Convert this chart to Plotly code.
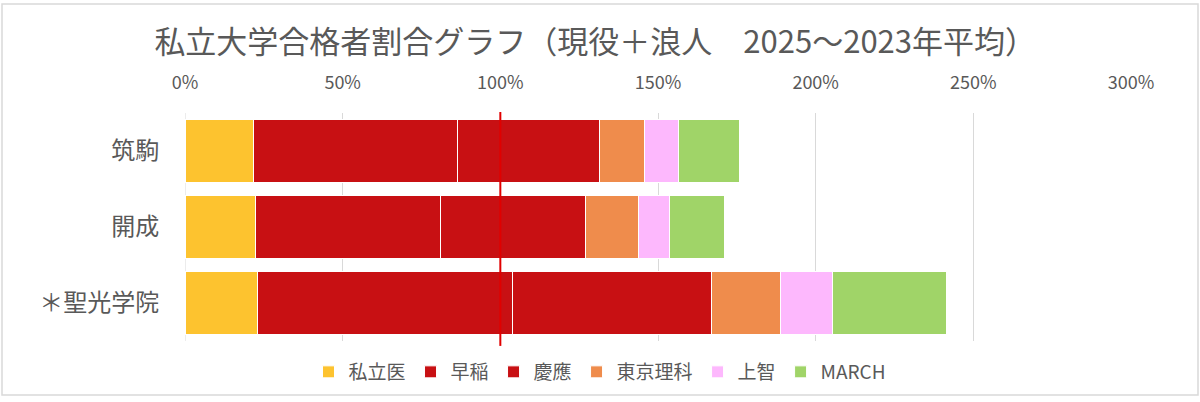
import plotly.graph_objects as go

# 学校ごとの合格者割合（2025～2023年平均）
schools = ["筑駒", "開成", "＊聖光学院"]
series_names = ["私立医", "早稲", "慶應", "東京理科", "上智", "MARCH"]
shiritsu_i = [0.216, 0.225, 0.231]
waseda = [0.649, 0.584, 0.808]
keio = [0.450, 0.462, 0.630]
tokyo_rika = [0.142, 0.167, 0.220]
jochi = [0.109, 0.098, 0.164]
march = [0.191, 0.176, 0.362]
colors = ["#FDC32F", "#C81013", "#C81013", "#EF8C4C", "#FDB8FD", "#A0D468"]

values = [shiritsu_i, waseda, keio, tokyo_rika, jochi, march]
font = "Noto Sans CJK JP"
grey = "#595959"

fig = go.Figure()
for name, vals, col in zip(series_names, values, colors):
    fig.add_trace(go.Bar(
        y=schools, x=vals, name=name, orientation="h",
        marker=dict(color=col, line=dict(color="white", width=1)),
    ))

W, H = 1200, 402
ml, mr, mt, mb = 185, 69, 113, 57
ph = H - mt - mb
pw = W - ml - mr

fig.update_layout(
    width=W, height=H,
    barmode="stack", bargap=0.17,
    margin=dict(l=ml, r=mr, t=mt, b=mb),
    paper_bgcolor="white", plot_bgcolor="white",
    font=dict(family=font, color=grey),
    title=dict(text="私立大学合格者割合グラフ（現役＋浪人　2025～2023年平均）",
               x=0.496, xref="container", xanchor="center",
               y=1 - 42 / H, yref="container", yanchor="middle",
               font=dict(size=31, color=grey, family=font)),
    legend=dict(orientation="h", x=0.5, xref="container", xanchor="center",
                y=1 - 372 / H, yref="container", yanchor="middle",
                font=dict(size=19, color=grey, family=font),
                traceorder="normal", itemwidth=30),
    xaxis=dict(range=[0, 3.0], side="top", tickformat=".0%", dtick=0.5,
               showgrid=True, gridcolor="#D9D9D9", gridwidth=1,
               zeroline=False, showline=False,
               ticks="outside", ticklen=16, tickcolor="rgba(0,0,0,0)",
               tickfont=dict(size=18, color=grey, family=font)),
    yaxis=dict(autorange="reversed", showgrid=False,
               ticks="outside", ticklen=20, tickcolor="rgba(0,0,0,0)",
               tickfont=dict(size=24, color=grey, family=font)),
    shapes=[
        # 0% 軸線
        dict(type="line", xref="x", yref="paper", x0=0, x1=0, y0=0, y1=1,
             line=dict(color="#D9D9D9", width=1), layer="below"),
        # 100% 基準線
        dict(type="line", xref="x", yref="paper", x0=1.0, x1=1.0,
             y0=-5 / ph, y1=1 + 1 / ph, line=dict(color="#E00000", width=2)),
        # 外枠
        dict(type="rect", xref="paper", yref="paper",
             x0=-(ml - 2) / pw, x1=1 + (mr - 2) / pw,
             y0=-(mb - 2) / ph, y1=1 + (mt - 2) / ph,
             line=dict(color="#D9D9D9", width=1.5)),
    ],
)

# ページ余白をなくして 1200x402 にぴったり収める
fig.write_html("out.html", config={"displayModeBar": False},
               post_script="document.body.style.margin='0';")
